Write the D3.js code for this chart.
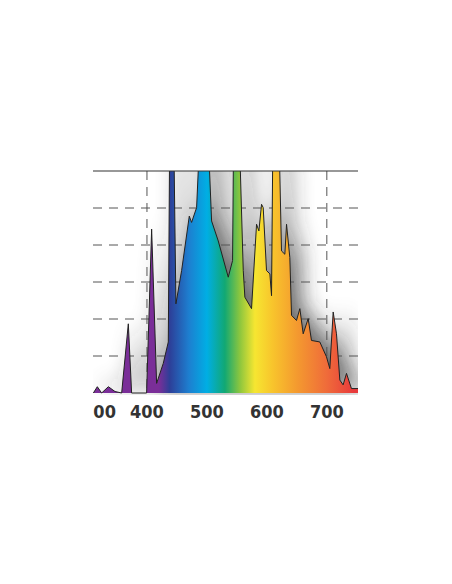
<!DOCTYPE html>
<html>
<head>
<meta charset="utf-8">
<script src="https://cdn.jsdelivr.net/npm/d3@7"></script>
<style>body{margin:0;background:#fff}</style>
</head>
<body>
<svg id="chart"></svg>
<script>
const wavelengths = [310.6,317.2,324.4,335.6,346.7,357.8,368.9,374.4,399.4,407.8,416.1,427.2,435.6,438.3,443.9,448.3,457.8,470.6,474.4,482.8,491.1,499.4,507.8,518.9,535.6,542.8,545,552.2,560.6,563.3,574.4,582.8,586.7,591.1,593.9,599.4,605,607.8,610.6,618.9,624.4,630,632.8,638.3,641.1,649.4,655,660.6,668.9,674.4,688.3,699.4,705,710.6,716.1,721.7,727.2,732.8,741.1,752];
const intensity = [0,0.17,0,0.17,0.04,0,1.87,0,0,4.43,0.26,0.8,1.38,8,8,2.41,3.31,4.78,4.61,5.01,8,8,4.65,4.11,3.13,3.58,8,8,3.31,2.59,2.28,4.56,4.38,5.1,5.01,3.31,3.22,2.63,8,8,3.84,3.75,4.56,3.66,2.1,1.96,2.28,1.6,2.01,1.42,1.38,0.98,0.66,2.19,1.6,0.35,0.22,0.53,0.12,0.12];
const tickLabels = [300,400,500,600,700,800];
const gridX = [400,700];
const gridY = [1,2,3,4,5];
const spectrumStops = [[310,"#7a2e98"],[420,"#7a2e98"],[438,"#2d3f98"],[470,"#1d7fd0"],[500,"#00aee4"],[530,"#12a873"],[555,"#8cc63e"],[580,"#f6e631"],[610,"#f8c42c"],[650,"#f49a2f"],[700,"#ef6b3a"],[745,"#e83a3c"]];

const W = 452, H = 584;
const m = {left: 93, top: 171, right: 94, bottom: 191};
const x = d3.scaleLinear().domain([310, 752]).range([m.left, W - m.right]);
const y = d3.scaleLinear().domain([0, 6]).range([H - m.bottom, m.top]);

const svg = d3.select("#chart").attr("width", W).attr("height", H);
const defs = svg.append("defs");
defs.append("clipPath").attr("id", "plot").append("rect")
  .attr("x", m.left).attr("y", m.top).attr("width", x.range()[1] - m.left).attr("height", y(0) - m.top + 2);
defs.append("clipPath").attr("id", "labels").append("rect")
  .attr("x", m.left).attr("y", 0).attr("width", x.range()[1] - m.left + 3).attr("height", H);
const grad = defs.append("linearGradient").attr("id", "spec")
  .attr("gradientUnits", "userSpaceOnUse").attr("x1", x(310)).attr("x2", x(752)).attr("y1", 0).attr("y2", 0);
spectrumStops.forEach(([w, c]) => grad.append("stop").attr("offset", (w - 310) / 442).attr("stop-color", c));
defs.append("filter").attr("id", "blur").attr("x", "-30%").attr("y", "-30%").attr("width", "160%").attr("height", "160%")
  .append("feGaussianBlur").attr("stdDeviation", 11);

const data = wavelengths.map((w, i) => [w, intensity[i]]);
const area = d3.area().x(d => x(d[0])).y0(y(0)).y1(d => y(d[1]));
const line = d3.line().x(d => x(d[0])).y(d => y(d[1]));

const g = svg.append("g").attr("clip-path", "url(#plot)");
g.append("path").datum(data).attr("d", area).attr("fill", "#2a2a2a").attr("opacity", 0.7)
  .attr("transform", "translate(10,-4)").attr("filter", "url(#blur)");

gridY.forEach(v => g.append("line").attr("x1", m.left).attr("x2", x.range()[1]).attr("y1", y(v)).attr("y2", y(v))
  .attr("stroke", "#555").attr("stroke-dasharray", "9,7"));
gridX.forEach(v => g.append("line").attr("x1", x(v)).attr("x2", x(v)).attr("y1", m.top).attr("y2", y(0))
  .attr("stroke", "#555").attr("stroke-dasharray", "9,7"));

g.append("path").datum(data).attr("d", area).attr("fill", "url(#spec)");
g.append("path").datum(data).attr("d", line).attr("fill", "none").attr("stroke", "#222").attr("stroke-width", 1);

svg.append("line").attr("x1", m.left).attr("x2", x.range()[1]).attr("y1", m.top).attr("y2", m.top)
  .attr("stroke", "#333").attr("stroke-width", 1.2);

svg.append("g").attr("clip-path", "url(#labels)").selectAll("text").data(tickLabels).join("text")
  .attr("x", d => x(d) + (d === 300 ? 12 : 0)).attr("y", y(0) + 25).attr("text-anchor", "middle")
  .attr("font-family", "DejaVu Sans Condensed, DejaVu Sans").attr("font-weight", "bold").attr("font-size", 18)
  .attr("fill", "#333").text(d => d);
</script>
</body>
</html>
